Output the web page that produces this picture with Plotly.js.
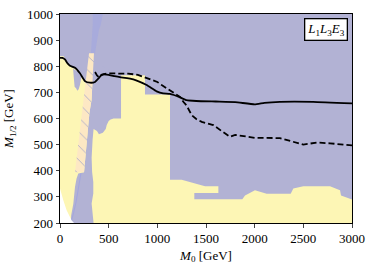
<!DOCTYPE html>
<html>
<head>
<meta charset="utf-8">
<script src="https://cdn.plot.ly/plotly-3.0.1.min.js"></script>
<style>html,body{margin:0;padding:0;background:#fff;}#chart{width:374px;height:268px;}</style>
</head>
<body>
<div id="chart"></div>
<script>
// ---- data (M0 [GeV], M1/2 [GeV]) ----
const xTicks = [0, 500, 1000, 1500, 2000, 2500, 3000];
const yTicks = [200, 300, 400, 500, 600, 700, 800, 900, 1000];

// allowed (yellow) region boundary
const yellowM0 = [0, 0, 40, 55, 100, 154, 205, 257, 308, 340, 627, 627, 873, 873, 1130, 1130, 1250, 1490, 1627, 1627, 1380, 1380, 1873, 1901, 2003, 2123, 2370, 2397, 2500, 2774, 2877, 2887, 3000, 3000];
const yellowM = [200, 838, 838, 820, 800, 790, 770, 738, 732, 740, 745, 766, 766, 692, 692, 366, 366, 341, 341, 315, 315, 291, 291, 305, 325, 312, 312, 332, 341, 341, 325, 305, 290, 200];

// excluded strip inside the yellow region
const stripM0 = [349, 342, 324, 303, 277, 247, 188, 170, 154, 137, 115, 110, 345, 342, 330, 325, 342, 342, 330, 325, 335, 345, 380, 400, 440, 470, 480, 500, 520, 550, 627, 627, 430, 349];
const stripM = [850, 785, 670, 624, 517, 394, 389, 370, 338, 274, 230, 200, 200, 217, 245, 275, 313, 357, 395, 450, 520, 560, 552, 540, 545, 560, 575, 590, 596, 600, 600, 770, 800, 850];

// small excluded notch under the curve
const notchM0 = [134, 140, 150, 165, 178, 192, 205, 226];
const notchM = [790, 745, 722, 716, 706, 712, 728, 770];

// light blue band
const blueM0 = [336, 439, 420, 400, 377, 360, 318, 325, 336];
const blueM = [1000, 1000, 960, 939, 889, 850, 850, 889, 960];
const blueLineM0 = [215, 190, 165, 140, 115];
const blueLineM = [390, 330, 280, 240, 205];

// hatched band
const hatchM0 = [298, 277, 226, 195, 154, 247, 277, 303, 324, 342, 349];
const hatchM = [850, 785, 624, 517, 394, 394, 517, 624, 670, 785, 850];

// region without data
const blankM0 = [0, 0, 34, 68, 120, 144];
const blankM = [200, 332, 287, 249, 210, 200];

// limit curves
const solidM0 = [0, 25, 51, 80, 103, 154, 205, 257, 308, 360, 400, 430, 480, 560, 616, 753, 890, 993, 1060, 1130, 1233, 1300, 1400, 1600, 1800, 2000, 2100, 2260, 2600, 3000];
const solidM = [832, 832, 826, 810, 802, 794, 773, 743, 737, 740, 755, 768, 768, 762, 758, 750, 728, 704, 696, 694, 681, 670, 667, 665, 663, 654, 660, 664, 664, 658];
const dashM0 = [360, 380, 400, 420, 450, 500, 616, 700, 800, 900, 1000, 1045, 1120, 1182, 1233, 1267, 1300, 1353, 1400, 1456, 1575, 1660, 1747, 1800, 2003, 2260, 2500, 2637, 2774, 3000];
const dashM = [778, 765, 758, 765, 770, 773, 772, 772, 767, 752, 740, 728, 710, 696, 683, 664, 650, 613, 598, 587, 575, 552, 530, 537, 526, 525, 500, 508, 505, 497];

const LAV = '#b2b2d4', YEL = '#fdf6b5', PEACH = '#fde8c4';
const serif = 'Liberation Serif, DejaVu Serif, serif';

function poly(x, y, color, extra) {
  return Object.assign({x: x, y: y, type: 'scatter', mode: 'lines', fill: 'toself',
    fillcolor: color, line: {width: 0, color: color}, hoverinfo: 'skip', showlegend: false}, extra || {});
}

const traces = [
  poly(yellowM0, yellowM, YEL),
  poly(stripM0, stripM, LAV),
  poly(notchM0, notchM, LAV),
  poly(blueM0, blueM, '#a8abdc'),
  {x: blueLineM0, y: blueLineM, type: 'scatter', mode: 'lines', line: {color: '#a3a6de', width: 1}, hoverinfo: 'skip', showlegend: false},
  poly(hatchM0, hatchM, PEACH, {fillpattern: {shape: '\\', fgcolor: '#aeaec8', bgcolor: PEACH, size: 10, solidity: 0.09}}),
  poly(blankM0, blankM, '#ffffff'),
  {x: solidM0, y: solidM, type: 'scatter', mode: 'lines', line: {color: '#000', width: 1.8, shape: 'spline', smoothing: 0.4}, hoverinfo: 'skip', showlegend: false},
  {x: dashM0, y: dashM, type: 'scatter', mode: 'lines', line: {color: '#000', width: 1.8, dash: '6px,3px'}, hoverinfo: 'skip', showlegend: false}
];

const layout = {
  width: 374, height: 268,
  margin: {l: 60, r: 22, t: 14, b: 45},
  paper_bgcolor: '#ffffff', plot_bgcolor: LAV,
  font: {family: serif, size: 13, color: '#000'},
  xaxis: {range: [0, 3000], tickvals: xTicks, ticktext: xTicks.map(String), ticks: 'outside', ticklen: 3.5, tickwidth: 1,
    showline: true, mirror: true, linecolor: '#000', linewidth: 1, showgrid: false, zeroline: false,
    tickfont: {family: serif, size: 13},
    title: {text: '<i>M</i><sub>0</sub> [GeV]', standoff: 5, font: {family: serif, size: 13}}},
  yaxis: {range: [200, 1000], tickvals: yTicks, ticktext: yTicks.map(String), ticks: 'outside', ticklen: 3.5, tickwidth: 1,
    showline: true, mirror: true, linecolor: '#000', linewidth: 1, showgrid: false, zeroline: false,
    tickfont: {family: serif, size: 13},
    title: {text: '<i>M</i><sub>1/2</sub> [GeV]', standoff: 10, font: {family: serif, size: 13}}},
  annotations: [{xref: 'paper', yref: 'paper', x: 0.985, y: 0.98, xanchor: 'right', yanchor: 'top',
    text: '<i>L</i><sub>1</sub><i>L</i><sub>3</sub><i>E</i><sub>3</sub>', showarrow: false,
    font: {family: serif, size: 13, color: '#000'}, bgcolor: '#ffffff', bordercolor: '#000', borderwidth: 1.3, borderpad: 2}]
};

Plotly.newPlot('chart', traces, layout, {staticPlot: true, displayModeBar: false});
</script>
</body>
</html>
